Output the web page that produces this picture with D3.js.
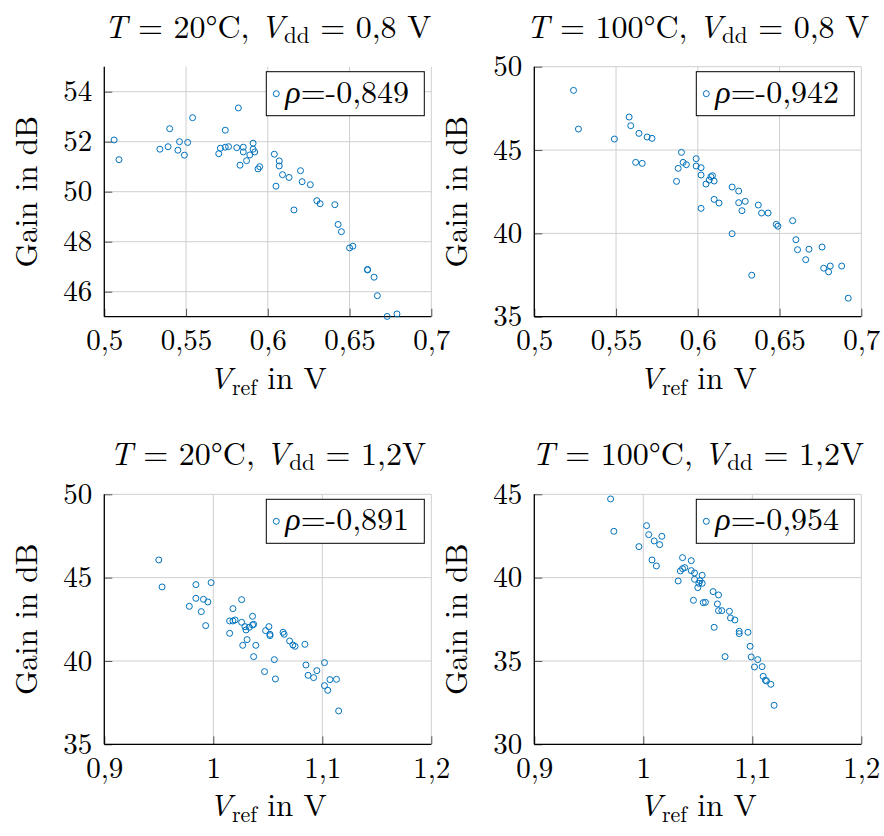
<!DOCTYPE html>
<html><head><meta charset="utf-8">
<script src="https://cdn.jsdelivr.net/npm/d3@7"></script>
<style>
body{margin:0;background:#fff}
svg{display:block}
</style>
</head><body>
<svg id="chart" width="884" height="836"></svg>
<script>
// ---------- data ----------
const p1x = [0.506,0.509,0.534,0.539,0.540,0.545,0.546,0.549,0.551,0.554,0.582,0.574,0.570,0.571,0.574,0.576,0.581,0.583,0.585,0.585,0.587,0.589,0.591,0.591,0.592,0.594,0.595,0.604,0.607,0.607,0.609,0.605,0.613,0.620,0.621,0.616,0.626,0.630,0.632,0.641,0.643,0.645,0.650,0.652,0.661,0.661,0.665,0.667,0.673,0.679];
const p1y = [52.07,51.28,51.70,51.80,52.52,51.66,52.00,51.46,51.97,52.96,53.35,52.46,51.52,51.74,51.78,51.80,51.76,51.06,51.78,51.59,51.24,51.47,51.94,51.70,51.59,50.91,51.00,51.50,51.23,51.03,50.68,50.22,50.57,50.84,50.40,49.27,50.28,49.64,49.52,49.48,48.69,48.40,47.75,47.82,46.87,46.89,46.58,45.84,45.01,45.11];

const p2x = [0.524,0.527,0.549,0.558,0.559,0.564,0.569,0.572,0.562,0.566,0.590,0.591,0.593,0.588,0.587,0.599,0.599,0.602,0.602,0.605,0.607,0.608,0.609,0.610,0.602,0.610,0.613,0.621,0.625,0.625,0.629,0.627,0.621,0.633,0.637,0.639,0.643,0.648,0.649,0.658,0.660,0.661,0.668,0.666,0.676,0.677,0.680,0.681,0.688,0.692];
const p2y = [48.58,46.26,45.66,46.98,46.46,46.00,45.78,45.70,44.26,44.20,44.86,44.26,44.12,43.90,43.12,44.48,44.04,43.94,43.50,42.96,43.20,43.40,43.46,43.14,41.50,42.04,41.82,42.78,42.54,41.84,41.92,41.36,39.98,37.49,41.70,41.22,41.22,40.54,40.43,40.76,39.62,39.02,39.05,38.42,39.18,37.91,37.69,38.04,38.04,36.11];

const p3x = [0.950,0.953,0.984,0.998,0.984,0.991,0.995,0.978,0.989,0.993,1.026,1.018,1.015,1.018,1.020,1.026,1.036,1.015,1.029,1.030,1.033,1.036,1.037,1.031,1.027,1.039,1.037,1.047,1.048,1.051,1.052,1.052,1.056,1.057,1.064,1.065,1.070,1.073,1.075,1.084,1.085,1.087,1.092,1.095,1.102,1.102,1.105,1.107,1.113,1.115];
const p3y = [46.06,44.44,44.58,44.70,43.76,43.70,43.54,43.28,42.96,42.12,43.68,43.14,42.40,42.40,42.46,42.32,42.68,41.66,42.06,41.86,42.02,42.16,42.20,41.28,40.94,40.94,40.26,39.36,41.82,42.06,41.60,41.52,40.08,38.92,41.72,41.60,41.20,40.96,40.88,41.00,39.76,39.14,39.00,39.42,39.90,38.52,38.24,38.88,38.90,37.00];

const p4x = [0.970,0.973,0.996,1.003,1.005,1.010,1.015,1.017,1.008,1.012,1.036,1.044,1.034,1.036,1.038,1.044,1.047,1.032,1.047,1.050,1.046,1.052,1.054,1.054,1.051,1.055,1.057,1.064,1.069,1.068,1.069,1.072,1.065,1.079,1.080,1.084,1.075,1.088,1.088,1.096,1.098,1.099,1.102,1.105,1.109,1.110,1.112,1.113,1.117,1.120];
const p4y = [44.72,42.78,41.86,43.12,42.58,42.20,41.98,42.48,41.06,40.70,41.20,41.02,40.40,40.54,40.60,40.42,40.28,39.80,39.90,39.40,38.64,39.82,40.14,39.66,39.66,38.50,38.52,39.16,38.96,38.42,38.02,38.02,37.02,37.98,37.58,37.46,35.26,36.78,36.64,36.72,35.88,35.24,34.64,35.08,34.66,34.08,33.84,33.80,33.60,32.34];

const xTicksTop = [0.5, 0.55, 0.6, 0.65, 0.7];
const xTicksBottom = [0.9, 1.0, 1.1, 1.2];
const yTicks1 = [46, 48, 50, 52, 54];
const yTicks2 = [35, 40, 45, 50];
const yTicks3 = [35, 40, 45, 50];
const yTicks4 = [30, 35, 40, 45];
const rhoLabels = ["-0,849", "-0,942", "-0,891", "-0,954"];
const tempLabels = ["20°C", "100°C", "20°C", "100°C"];
const vddLabels = ["0,8 V", "0,8 V", "1,2V", "1,2V"];

// ---------- layout ----------
const svg = d3.select("#chart");
const FONT = '"Latin Modern Roman"';
const BLUE = "#0072bd";
const lefts = [104.3, 534.3];
const tops = [66.7, 494.3];
const PW = 327, PH = 250;
const fmt = d => String(+d.toFixed(3)).replace(".", ",");

const panels = [
  {x: p1x, y: p1y, xd: [0.5, 0.7], yd: [45, 55], xt: xTicksTop, yt: yTicks1, col: 0, row: 0},
  {x: p2x, y: p2y, xd: [0.5, 0.7], yd: [35, 50], xt: xTicksTop, yt: yTicks2, col: 1, row: 0},
  {x: p3x, y: p3y, xd: [0.9, 1.2], yd: [35, 50], xt: xTicksBottom, yt: yTicks3, col: 0, row: 1},
  {x: p4x, y: p4y, xd: [0.9, 1.2], yd: [30, 45], xt: xTicksBottom, yt: yTicks4, col: 1, row: 1}
];

panels.forEach((p, i) => {
  const L = lefts[p.col], T = tops[p.row];
  const g = svg.append("g").attr("transform", `translate(${L},${T})`);
  const xs = d3.scaleLinear().domain(p.xd).range([0, PW]);
  const ys = d3.scaleLinear().domain(p.yd).range([PH, 0]);

  // grid
  g.append("g").selectAll("line").data(p.xt).join("line")
    .attr("x1", d => xs(d)).attr("x2", d => xs(d)).attr("y1", 0).attr("y2", PH)
    .attr("stroke", "#cfcfcf").attr("stroke-width", 1);
  g.append("g").selectAll("line").data(p.yt).join("line")
    .attr("y1", d => ys(d)).attr("y2", d => ys(d)).attr("x1", 0).attr("x2", PW)
    .attr("stroke", "#cfcfcf").attr("stroke-width", 1);

  // axes (inward ticks)
  const xAxis = d3.axisBottom(xs).tickValues(p.xt).tickSize(-8).tickFormat(fmt).tickPadding(13);
  const yAxis = d3.axisLeft(ys).tickValues(p.yt).tickSize(-8).tickFormat(fmt).tickPadding(12);
  const gx = g.append("g").attr("transform", `translate(0,${PH})`).call(xAxis);
  const gy = g.append("g").call(yAxis);
  [gx, gy].forEach(a => {
    a.attr("font-family", FONT).attr("font-size", 29);
    a.select(".domain").remove();
    a.selectAll(".tick line").attr("stroke", "#555").attr("stroke-width", 1);
    a.selectAll(".tick text").attr("fill", "#000").attr("font-family", FONT).attr("font-size", 29);
  });
  // axis lines left & bottom
  g.append("line").attr("x1", 0).attr("x2", 0).attr("y1", 0).attr("y2", PH).attr("stroke", "#000").attr("stroke-width", 1.3);
  g.append("line").attr("x1", 0).attr("x2", PW).attr("y1", PH).attr("y2", PH).attr("stroke", "#000").attr("stroke-width", 1.3);

  // points
  g.append("g").selectAll("circle").data(p.x.map((v, k) => [v, p.y[k]])).join("circle")
    .attr("cx", d => xs(d[0])).attr("cy", d => ys(d[1])).attr("r", 3)
    .attr("fill", "none").attr("stroke", BLUE).attr("stroke-width", 1);

  // legend
  const lw = 158, lh = 44;
  const lg = g.append("g").attr("transform", `translate(${PW - 7 - lw},5)`);
  lg.append("rect").attr("width", lw).attr("height", lh).attr("fill", "#fff").attr("stroke", "#000").attr("stroke-width", 1);
  lg.append("circle").attr("cx", 10).attr("cy", lh / 2).attr("r", 3).attr("fill", "none").attr("stroke", BLUE);
  const lt = lg.append("text").attr("x", 19).attr("y", 31).attr("font-family", FONT).attr("font-size", 32);
  lt.append("tspan").attr("font-style", "italic").text("ρ");
  lt.append("tspan").text("=" + rhoLabels[i]);

  // title
  const tt = g.append("text").attr("x", PW / 2).attr("y", -29).attr("text-anchor", "middle")
    .attr("font-family", FONT).attr("font-size", 32);
  tt.append("tspan").attr("font-style", "italic").text("T");
  tt.append("tspan").text(" = " + tempLabels[i] + ", ");
  tt.append("tspan").attr("font-style", "italic").text("V");
  tt.append("tspan").attr("dy", 5).attr("font-size", 23).text("dd");
  tt.append("tspan").attr("dy", -5).text(" = " + vddLabels[i]);

  // x label
  const xl = g.append("text").attr("x", PW / 2).attr("y", PH + 72).attr("text-anchor", "middle")
    .attr("font-family", FONT).attr("font-size", 31);
  xl.append("tspan").attr("font-style", "italic").text("V");
  xl.append("tspan").attr("dy", 6).attr("font-size", 22).text("ref");
  xl.append("tspan").attr("dy", -6).text(" in V");

  // y label
  g.append("text").attr("transform", `translate(-67,${PH / 2}) rotate(-90)`).attr("text-anchor", "middle")
    .attr("font-family", FONT).attr("font-size", 31).text("Gain in dB");
});
</script>
</body></html>
